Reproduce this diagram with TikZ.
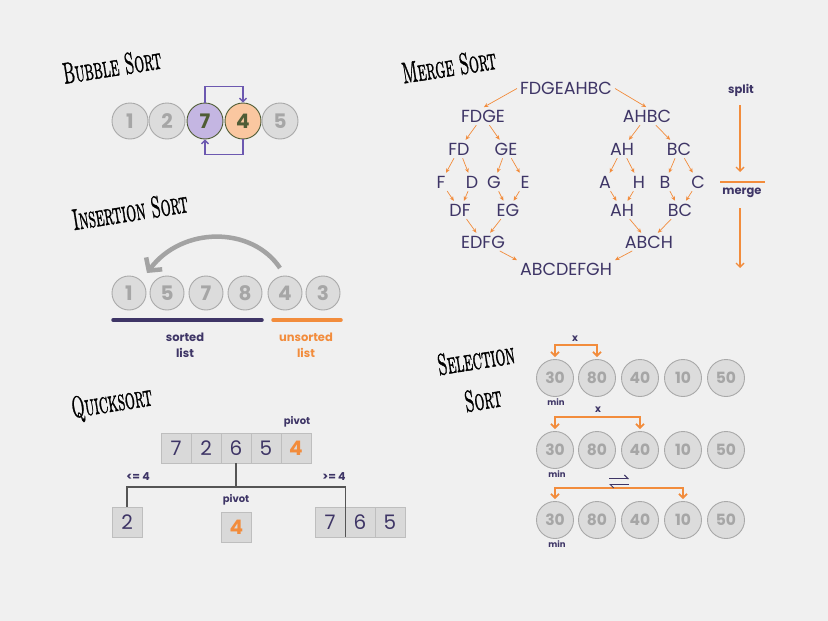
\documentclass[tikz,border=0pt]{standalone}
\usepackage{fontspec}
\usepackage{graphicx}
\setmainfont{Poppins}
\newfontfamily\titlefont[Extension=.otf,FakeBold=1.4]{lmromancaps10-regular}
\usetikzlibrary{arrows.meta}
\definecolor{bg}{HTML}{F0F0F0}
\definecolor{ink}{HTML}{3E3566}
\definecolor{org}{HTML}{F28C3C}
\definecolor{cfill}{HTML}{DCDCDC}
\definecolor{cline}{HTML}{A9A9A9}
\definecolor{ctext}{HTML}{A6A6A6}
\definecolor{bpur}{HTML}{6C58B0}
\definecolor{lav}{HTML}{C4B6E2}
\definecolor{peach}{HTML}{FAC7A0}
\definecolor{olive}{HTML}{4F5C35}
\definecolor{qline}{HTML}{555555}
\definecolor{arcg}{HTML}{A3A3A3}
\definecolor{qfill}{HTML}{D9D9D9}
\definecolor{qdraw}{HTML}{BEBEBE}
\newcommand{\ttl}[1]{\scalebox{0.52}[1]{#1}}
\begin{document}
\begin{tikzpicture}[x=1pt,y=-1pt,
  title/.style={font=\titlefont\fontsize{30}{32}\selectfont, text=black, rotate=9, inner sep=0pt},
  cg/.style={circle, minimum size=36pt, inner sep=0pt, fill=cfill, draw=cline, line width=0.9pt, text=ctext, font=\fontsize{20}{22}\selectfont\bfseries},
  ci/.style={cg, minimum size=34pt},
  sc/.style={cg, minimum size=37pt, font=\fontsize{15.5}{17}\selectfont\bfseries},
  qbox/.style={rectangle, minimum width=30pt, minimum height=30pt, inner sep=0pt, fill=qfill, draw=qdraw, line width=0.8pt, text=ink, font=\fontsize{20}{22}\selectfont},
  lab/.style={text=ink, font=\fontsize{10}{12}\selectfont\bfseries, inner sep=1pt},
  ml/.style={text=ink, font=\fontsize{17.5}{19}\selectfont, inner sep=2pt},
  marr/.style={draw=org, line width=0.7pt, -{Stealth[length=4.5pt,width=4pt]}, shorten >=1pt, shorten <=1pt},
  barr/.style={draw=bpur, line width=1.4pt, -{Straight Barb[length=3.5pt,width=7pt]}},
  oarr/.style={draw=org, line width=1.8pt, {Straight Barb[length=4pt,width=8pt]}-{Straight Barb[length=4pt,width=8pt]}},
  sarr/.style={draw=org, line width=1.4pt, -{Straight Barb[length=4pt,width=8pt]}}
]
\fill[bg] (0,0) rectangle (828,621);
\useasboundingbox (0,0) rectangle (828,621);

% ---------------- Bubble sort
\node[title] (tb) at (112,66) {\ttl{Bubble Sort}};
\node[cg] (b1) at (130,121) {1};
\node[cg] (b2) at (167,121) {2};
\node[cg, fill=lav, draw=olive, text=olive] (b3) at (205,121) {7};
\node[cg, fill=peach, draw=olive, text=olive] (b4) at (243,121) {4};
\node[cg] (b5) at (280,121) {5};
\draw[barr] (b3.north) -- ++(0,-16) -| (b4.north);
\draw[barr] (b4.south) -- ++(0,15) -| (b3.south);

% ---------------- Insertion sort
\node[title] (ti) at (130,211) {\ttl{Insertion Sort}};
\node[ci] (i1) at (129,293) {1};
\node[ci] (i2) at (167,293) {5};
\node[ci] (i3) at (206,293) {7};
\node[ci] (i4) at (245,293) {8};
\node[ci] (i5) at (285,293) {4};
\node[ci] (i6) at (323,293) {3};
\coordinate (as) at (280,268);
\coordinate (ae) at (147,273);
\draw[arcg, line width=4.5pt, -{Straight Barb[length=9pt,width=20pt]}]
  (as) .. controls (252,226) and (182,226) .. (ae);
\draw[ink, line width=3.5pt, line cap=round] (113,320) -- (262,320);
\draw[org, line width=3.5pt, line cap=round] (273,320) -- (341,320);
\node[lab, font=\fontsize{11.5}{16}\selectfont\bfseries, align=center] (sl) at (185,345) {sorted\\list};
\node[lab, font=\fontsize{11.5}{16}\selectfont\bfseries, align=center, text=org] (ul) at (306,345) {unsorted\\list};

% ---------------- Quicksort
\node[title] (tq) at (112,404) {\ttl{Quicksort}};
\node[qbox] (q1) at (176,448) {7};
\node[qbox] (q2) at (206,448) {2};
\node[qbox] (q3) at (236,448) {6};
\node[qbox] (q4) at (266,448) {5};
\node[qbox, text=org, font=\fontsize{20}{22}\selectfont\bfseries] (q5) at (296,448) {4};
\node[lab] (pv1) at (297,422) {pivot};
\node[qbox] (l1) at (127,522) {2};
\node[qbox, text=org, font=\fontsize{20}{22}\selectfont\bfseries] (p1) at (236.5,527) {4};
\node[lab] (pv2) at (236,500) {pivot};
\node[qbox] (r1) at (330,522) {7};
\node[qbox] (r2) at (360,522) {6};
\node[qbox] (r3) at (390,522) {5};
\node[lab, font=\fontsize{11}{12}\selectfont\bfseries] (le) at (138,477) {<= 4};
\node[lab, font=\fontsize{11}{12}\selectfont\bfseries] (ge) at (334,477) {>= 4};
\coordinate (hb) at (236,487);
\draw[qline, line width=1.2pt] (q3.south) -- (hb);
\draw[qline, line width=1.2pt] (l1.north) |- (hb) -| (r1.south east);

% ---------------- Merge sort
\node[title] (tm) at (449,66) {\ttl{Merge Sort}};
\node[ml] (m0) at (566,88) {FDGEAHBC};
\node[ml] (m1) at (483,116) {FDGE};
\node[ml] (m2) at (647,116) {AHBC};
\node[ml] (fd) at (459,149) {FD};
\node[ml] (ge2) at (506,149) {GE};
\node[ml] (ah) at (622,149) {AH};
\node[ml] (bc) at (679,149) {BC};
\node[ml] (f) at (441,182) {F};
\node[ml] (d) at (472,182) {D};
\node[ml] (g) at (494,182) {G};
\node[ml] (e) at (525,182) {E};
\node[ml] (a) at (605,182) {A};
\node[ml] (h) at (639,182) {H};
\node[ml] (b) at (665,182) {B};
\node[ml] (c) at (698,182) {C};
\node[ml] (df) at (460,210) {DF};
\node[ml] (eg) at (508,210) {EG};
\node[ml] (ah2) at (622,210) {AH};
\node[ml] (bc2) at (680,210) {BC};
\node[ml] (edfg) at (483,242) {EDFG};
\node[ml] (abch) at (649,242) {ABCH};
\node[ml] (all) at (566,269) {ABCDEFGH};
\draw[marr] (m0.west) -- (m1.north);
\draw[marr] (m0.east) -- (m2.north);
\draw[marr] (m1) -- (fd);
\draw[marr] (m1) -- (ge2);
\draw[marr] (m2) -- (ah);
\draw[marr] (m2) -- (bc);
\draw[marr] (fd) -- (f);
\draw[marr] (fd) -- (d);
\draw[marr] (ge2) -- (g);
\draw[marr] (ge2) -- (e);
\draw[marr] (ah) -- (a);
\draw[marr] (ah) -- (h);
\draw[marr] (bc) -- (b);
\draw[marr] (bc) -- (c);
\draw[marr] (f) -- (df);
\draw[marr] (d) -- (df);
\draw[marr] (g) -- (eg);
\draw[marr] (e) -- (eg);
\draw[marr] (a) -- (ah2);
\draw[marr] (h) -- (ah2);
\draw[marr] (b) -- (bc2);
\draw[marr] (c) -- (bc2);
\draw[marr] (df) -- (edfg);
\draw[marr] (eg) -- (edfg);
\draw[marr] (ah2) -- (abch);
\draw[marr] (bc2) -- (abch);
\draw[marr] (edfg) -- (all.north west);
\draw[marr] (abch) -- (all.north east);
\node[lab, font=\fontsize{11.5}{13}\selectfont\bfseries] (split) at (741,90) {split};
\node[lab, font=\fontsize{11.5}{13}\selectfont\bfseries] (merge) at (742,193) {merge};
\coordinate (sp1) at (740,105);
\coordinate (sp2) at (740,172);
\coordinate (mg1) at (740,208);
\coordinate (mg2) at (740,268);
\coordinate (ml1) at (720,182);
\coordinate (ml2) at (765,182);
\draw[sarr] (sp1) -- (sp2);
\draw[org, line width=1.6pt] (ml1) -- (ml2);
\draw[sarr] (mg1) -- (mg2);

% ---------------- Selection sort
\node[title] (ts1) at (476,359) {\ttl{Selection}};
\node[title] (ts2) at (483,399) {\ttl{Sort}};
\foreach \r/\y in {1/378,2/450,3/520}{
  \node[sc] (s\r1) at (555,\y) {30};
  \node[sc] (s\r2) at (597,\y) {80};
  \node[sc] (s\r3) at (640,\y) {40};
  \node[sc] (s\r4) at (683,\y) {10};
  \node[sc] (s\r5) at (726,\y) {50};
}
\draw[oarr] ([yshift=2pt]s11.north) -- ++(0,-12) -| ([yshift=2pt]s12.north);
\draw[oarr] ([yshift=2pt]s21.north) -- ++(0,-12) -| ([yshift=2pt]s23.north);
\draw[oarr] ([yshift=2pt]s31.north) -- ++(0,-11) -| ([yshift=2pt]s34.north);
\node[lab] (x1) at (575,339) {x};
\node[lab] (x2) at (598,410) {x};
\node[lab, font=\fontsize{8.5}{10}\selectfont\bfseries] (mn1) at (556,402) {min};
\node[lab, font=\fontsize{8.5}{10}\selectfont\bfseries] (mn2) at (557,474) {min};
\node[lab, font=\fontsize{8.5}{10}\selectfont\bfseries] (mn3) at (557,544) {min};
\coordinate (w1) at (609,478.5);
\coordinate (w2) at (629,478.5);
\coordinate (w3) at (609,484.5);
\coordinate (w4) at (629,484.5);
\draw[ink, line width=1pt, -{Straight Barb[harpoon,length=3.5pt,width=7pt]}] (w1) -- (w2);
\draw[ink, line width=1pt, -{Straight Barb[harpoon,length=3.5pt,width=7pt]}] (w4) -- (w3);
\end{tikzpicture}
\end{document}
